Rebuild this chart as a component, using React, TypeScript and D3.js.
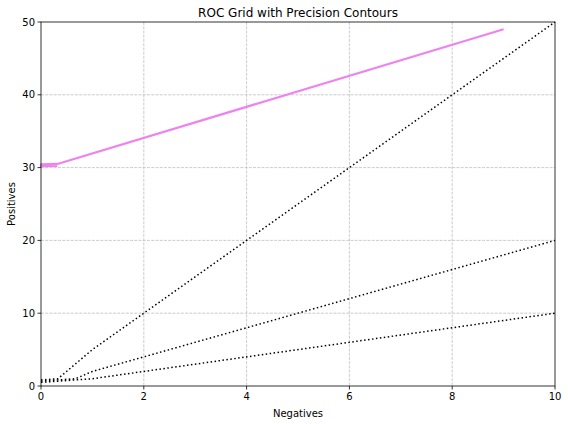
import { useRef, useEffect } from 'react';
import * as d3 from 'd3';

// precision contours (marching-squares style kinks near the origin)
const contourHigh: [number, number][] = [[0, 0.83], [0.33, 1], [1, 5], [10, 50]];
const contourMid: [number, number][] = [[0, 0.67], [0.67, 1], [1, 2], [10, 20]];
const contourLow: [number, number][] = [[0, 0.5], [1, 1], [10, 10]];

// the ROC curve
const rocPoints: [number, number][] = [[0.32, 30.25], [0, 30.2], [0, 30.45], [0.32, 30.5], [9, 49]];

const xTicks = [0, 2, 4, 6, 8, 10];
const yTicks = [0, 10, 20, 30, 40, 50];

export default function App() {
  const svgRef = useRef<SVGSVGElement>(null);

  useEffect(() => {
    if (!svgRef.current) return;
    const svg = d3.select(svgRef.current);
    svg.selectAll('*').remove();

    const left = 41, right = 555, top = 22, bottom = 386;
    const x = d3.scaleLinear().domain([0, 10]).range([left, right]);
    const y = d3.scaleLinear().domain([0, 50]).range([bottom, top]);
    const font = 'DejaVu Sans, sans-serif';

    svg.append('rect').attr('width', 568).attr('height', 424).attr('fill', '#fff');

    // Grid
    const grid = svg.append('g')
      .attr('stroke', '#b0b0b0')
      .attr('stroke-width', 0.8)
      .attr('stroke-dasharray', '2.96,1.28')
      .attr('opacity', 0.8);
    xTicks.slice(1, -1).forEach((t) => {
      grid.append('line').attr('x1', x(t)).attr('x2', x(t)).attr('y1', top).attr('y2', bottom);
    });
    yTicks.slice(1, -1).forEach((t) => {
      grid.append('line').attr('x1', left).attr('x2', right).attr('y1', y(t)).attr('y2', y(t));
    });

    const line = d3.line<[number, number]>().x((d) => x(d[0])).y((d) => y(d[1]));

    [contourHigh, contourMid, contourLow].forEach((c) => {
      svg.append('path')
        .attr('d', line(c) as string)
        .attr('fill', 'none')
        .attr('stroke', '#000')
        .attr('stroke-width', 1.5)
        .attr('stroke-dasharray', '1.5,2.475');
    });

    svg.append('path')
      .attr('d', line(rocPoints) as string)
      .attr('fill', 'none')
      .attr('stroke', '#ee82ee')
      .attr('stroke-width', 2.2)
      .attr('stroke-linejoin', 'round');

    // Frame
    svg.append('rect')
      .attr('x', left).attr('y', top)
      .attr('width', right - left).attr('height', bottom - top)
      .attr('fill', 'none').attr('stroke', '#000').attr('stroke-width', 0.8);

    // Ticks
    xTicks.forEach((t) => {
      svg.append('line').attr('x1', x(t)).attr('x2', x(t)).attr('y1', bottom).attr('y2', bottom + 3.5)
        .attr('stroke', '#000').attr('stroke-width', 0.8);
      svg.append('text').attr('x', x(t)).attr('y', bottom + 6).attr('dy', '0.76em')
        .attr('text-anchor', 'middle').attr('font-family', font).attr('font-size', 10)
        .attr('fill', '#000').text(t);
    });
    yTicks.forEach((t) => {
      svg.append('line').attr('x1', left - 3.5).attr('x2', left).attr('y1', y(t)).attr('y2', y(t))
        .attr('stroke', '#000').attr('stroke-width', 0.8);
      svg.append('text').attr('x', left - 6).attr('y', y(t)).attr('dy', '0.35em')
        .attr('text-anchor', 'end').attr('font-family', font).attr('font-size', 10)
        .attr('fill', '#000').text(t);
    });

    svg.append('text').attr('x', (left + right) / 2).attr('y', 17)
      .attr('text-anchor', 'middle').attr('font-family', font).attr('font-size', 12)
      .attr('fill', '#000').text('ROC Grid with Precision Contours');

    svg.append('text').attr('x', (left + right) / 2).attr('y', 417)
      .attr('text-anchor', 'middle').attr('font-family', font).attr('font-size', 10)
      .attr('fill', '#000').text('Negatives');

    svg.append('text')
      .attr('transform', `translate(15,${(top + bottom) / 2}) rotate(-90)`)
      .attr('text-anchor', 'middle').attr('font-family', font).attr('font-size', 10)
      .attr('fill', '#000').text('Positives');
  }, []);

  return (
    <div style={{ position: 'fixed', left: 0, top: 0 }}>
      <svg ref={svgRef} width={568} height={424} style={{ display: 'block' }} />
    </div>
  );
}
